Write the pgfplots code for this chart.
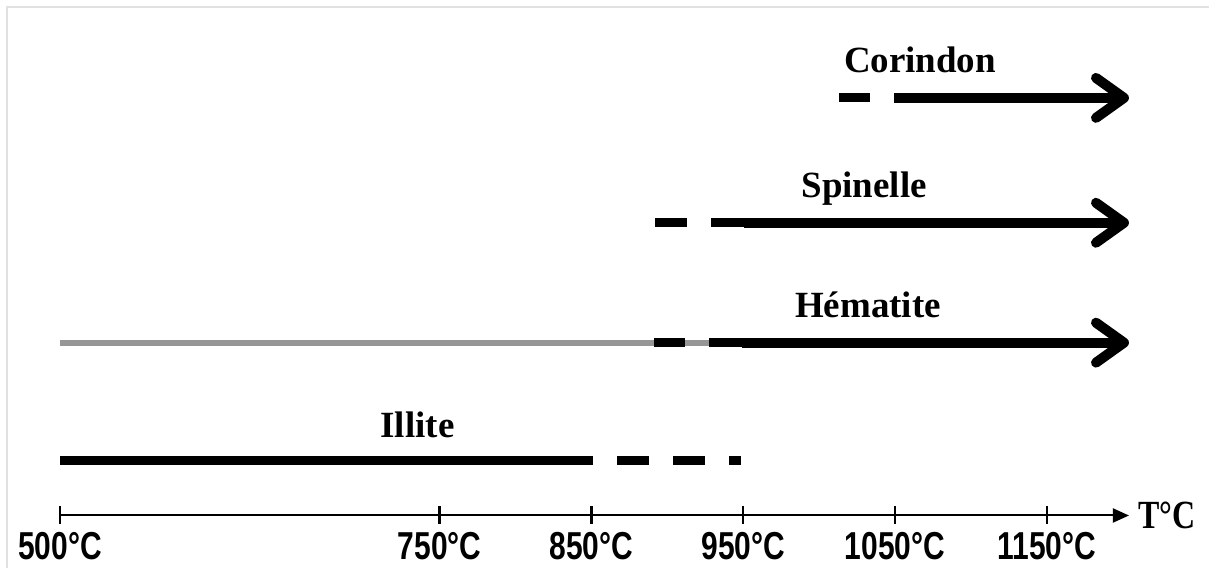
\documentclass[border=0pt]{standalone}
\usepackage{pgfplots}
\pgfplotsset{compat=1.18}
\usetikzlibrary{arrows.meta}
\usepackage{fontspec}
\setmainfont{Liberation Serif}
\newfontfamily\arial{Liberation Sans}
\definecolor{grayline}{RGB}{150,150,150}
\definecolor{framegray}{RGB}{225,225,225}
\newcommand{\tl}[1]{\scalebox{1}[1.3]{#1}}

\begin{document}
\begin{tikzpicture}
\begin{axis}[
    scale only axis,
    width=535pt, height=258pt,
    xmin=500, xmax=1204, ymin=53, ymax=569,
    enlargelimits=false,
    clip=false,
    axis y line=none,
    axis x line=bottom,
    x axis line style={line width=1pt, -{Triangle[length=8pt,width=7pt]}},
    xtick={500,750,850,950,1050,1150},
    xticklabels={\tl{500°C},\tl{750°C},\tl{850°C},\tl{950°C},\tl{1050°C},\tl{1150°C}},
    tick align=center,
    major tick length=9pt,
    xtick style={line width=1.2pt, black},
    xticklabel style={anchor=base, yshift=-17.5pt, font=\arial\bfseries\fontsize{15}{15}\selectfont},
    xlabel={\scalebox{1}[1.25]{T°C}},
    xlabel style={at={(axis description cs:1,0)}, anchor=west, xshift=1pt, font=\bfseries\fontsize{16}{16}\selectfont},
  ]
  % frame and page size
  \path (axis cs:460.5,0) rectangle (axis cs:1256.6,569);
  \draw[framegray, line width=1.2pt] (axis cs:465.1,0) -- (axis cs:465.1,562) -- (axis cs:1256.6,562);

  % Illite
  \addplot[black, line width=4.5pt] coordinates {(500,108) (851.3,108)};
  \addplot[black, line width=4.5pt] coordinates {(867,108) (888,108)};
  \addplot[black, line width=4.5pt] coordinates {(904,108) (925,108)};
  \addplot[black, line width=4.5pt] coordinates {(940.8,108) (948.7,108)};

  % Hematite
  \addplot[grayline, line width=2.9pt] coordinates {(500,226) (949.3,226)};
  \addplot[black, line width=4.5pt] coordinates {(891.4,226) (911.8,226)};
  \addplot[black, line width=4.5pt] coordinates {(927.6,226) (949.3,226)};
  \addplot[black, line width=5pt, -{Straight Barb[round, length=14pt, width=20pt]}] coordinates {(949.3,226) (1204,226)};

  % Spinelle
  \addplot[black, line width=4.5pt] coordinates {(892.1,346) (913.2,346)};
  \addplot[black, line width=4.5pt] coordinates {(929,346) (950.7,346)};
  \addplot[black, line width=5pt, -{Straight Barb[round, length=14pt, width=20pt]}] coordinates {(950.7,346) (1204,346)};

  % Corindon
  \addplot[black, line width=4.5pt] coordinates {(1013,471) (1033.6,471)};
  \addplot[black, line width=5pt, -{Straight Barb[round, length=14pt, width=20pt]}] coordinates {(1049.3,471) (1204,471)};

  \node[anchor=base, font=\bfseries\fontsize{18.5}{18.5}\selectfont] at (axis cs:735.5,131) {Illite};
  \node[anchor=base, font=\bfseries\fontsize{18.5}{18.5}\selectfont] at (axis cs:1032.2,251) {Hématite};
  \node[anchor=base, font=\bfseries\fontsize{18.5}{18.5}\selectfont] at (axis cs:1029.6,371) {Spinelle};
  \node[anchor=base, font=\bfseries\fontsize{18.5}{18.5}\selectfont] at (axis cs:1066.4,496) {Corindon};
\end{axis}
\end{tikzpicture}
\end{document}
